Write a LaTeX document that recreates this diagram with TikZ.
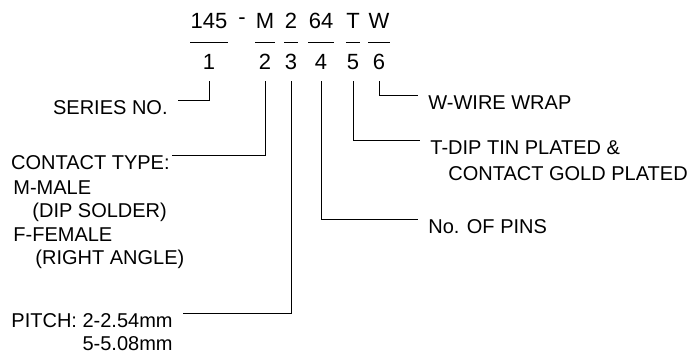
\documentclass[tikz,border=0pt]{standalone}
\usepackage{fontspec}
\setmainfont{Liberation Sans}
\usetikzlibrary{positioning}

\begin{document}
\begin{tikzpicture}[x=1pt, y=-1pt, line width=0.8pt,
      code/.style={inner xsep=0pt, inner ysep=0pt, minimum height=42pt, font=\fontsize{22}{26}\selectfont},
      num/.style={inner sep=0pt, minimum height=38pt, font=\fontsize{22}{26}\selectfont},
      lab/.style={inner xsep=10pt, inner ysep=0pt, text height=14pt, text depth=4pt, font=\fontsize{20}{23}\selectfont},
      blk/.style={inner xsep=10pt, inner ysep=0pt, font=\fontsize{20}{23.5}\selectfont}]
      \useasboundingbox (0,0) rectangle (695,354);
      % part number
      \node[code] (c1) at (209,21) {145};
      \node[code] (cd) at (242,21) {-};
      \node[code] (c2) at (265,21) {M};
      \node[code] (c3) at (291,21) {2};
      \node[code] (c4) at (321,21) {64};
      \node[code] (c5) at (353,21) {T};
      \node[code] (c6) at (379,21) {W};
      \foreach \i in {1,...,6} {
        \node[num, below=0pt of c\i] (n\i) {\i};
        \draw (c\i.south west) -- (c\i.south east);
      }
      % left labels
      \node[lab, anchor=north east] (sn) at (178,100) {SERIES NO.};
      \node[lab, anchor=north east, inner xsep=2pt] (ct) at (172,155) {CONTACT TYPE:};
      \node[blk, anchor=north west, inner xsep=0pt, align=left] (ctm) at (13,180)
        {M-MALE\\\hspace{19pt}(DIP SOLDER)\\F-FEMALE\\\hspace{22pt}(RIGHT ANGLE)};
      \node[blk, anchor=north east, align=right] (pt) at (183,313) {PITCH: 2-2.54mm\\5-5.08mm};
      % right labels
      \node[lab, anchor=north west] (ww) at (418,95) {W-WIRE WRAP};
      \node[blk, anchor=north west, align=left, font=\fontsize{20}{26}\selectfont] (tp) at (420,140)
        {T-DIP TIN PLATED \&\\\hspace{18pt}CONTACT GOLD PLATED};
      \node[lab, anchor=north west] (np) at (418,219) {No. OF PINS};
      \draw (n1.south) |- (sn.north east);
      \draw (n2.south) |- (ct.north east);
      \draw (n3.south) |- (pt.north east);
      \draw (n4.south) |- (np.north west);
      \draw (n5.south) |- (tp.north west);
      \draw (n6.south) |- (ww.north west);
    \end{tikzpicture}
\end{document}
